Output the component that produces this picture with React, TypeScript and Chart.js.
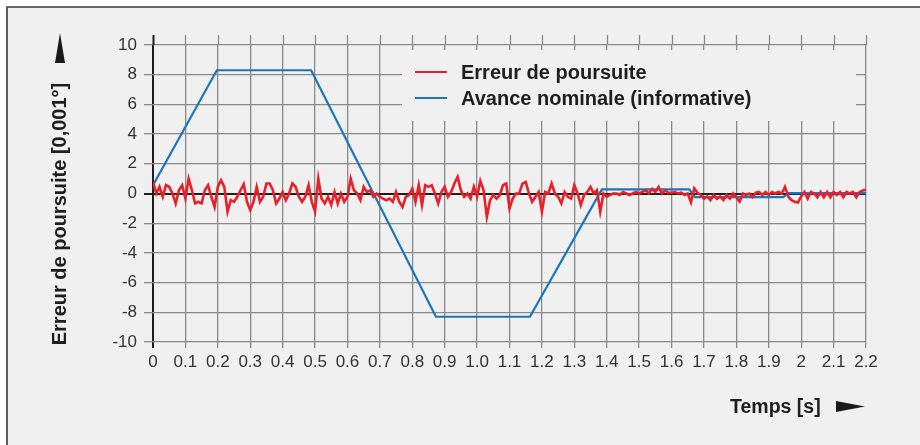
import React, { useEffect, useRef } from 'react';
import { Chart, registerables } from 'chart.js';
Chart.register(...registerables);

// Red: tracking error, sampled every 0.01 s from t = 0 to 2.2 s
const redStep = 0.01;
const redValues = [
  0.78, 0, 0.45, -0.22, 0.56, 0.45, 0, -0.67, 0.22, 0.56,
  -0.34, 1.0, 0.22, -0.67, -0.56, -0.67, 0.22, 0.56, -0.22, -0.9,
  0.45, 0.9, 0.45, -1.23, -0.45, -0.56, -0.22, 0.22, 0.63, -0.56,
  -1.12, -0.56, 0.45, -0.56, -0.22, 0.67, 0.67, 0.22, -0.67, -0.34,
  0.1, -0.45, 0, 0.67, 0.45, -0.22, -0.56, -0.22, 0.56, -0.56,
  -1.23, 1.0, -0.34, -0.67, -0.22, -0.78, 0.1, -0.67, 0, -0.56,
  -0.22, 1.0, 0.22, 0, -0.45, 0.45, 0.1, 0.22, -0.22, 0,
  -0.22, -0.34, -0.45, -0.34, -0.56, 0.1,
  -0.56, -0.9, -0.22, -0.1, 0.34, -0.56, 0.56, -0.78, 0.56, 0.45,
  0.56, 0, -0.67, 0.1, 0.45, -0.22, 0.1, 0.67, 1.12, 0.22,
  -0.22, 0, -0.34, 0.45, -0.22, 0.85, 0.22, -1.57, -0.45, -0.1,
  -0.34, -0.1, 0.56, 0.67, -1.0, -0.34, 0, 0, 0.67, 0.78,
  0, -0.56, -0.22, 0.1, -1.23, 0.1, 0, 0.67, 0, -0.22,
  -0.67, 0.1, -0.22, -0.34, 0.56, 0, -0.78, -0.1, 0.1, 0.45,
  0, 0.22, -1.23, 0, -0.22, -0.1, 0, 0, -0.1, 0.1,
  0, -0.1, 0, 0.1, 0, 0.1, 0.22, 0,
  0.3, 0.1, 0.45, 0, 0.2, 0.05, 0.05, 0.1, 0, 0.05,
  -0.1, 0, -0.6, 0.35, 0.05, -0.1, -0.35, -0.2, -0.45, -0.1,
  -0.35, -0.2, -0.45, -0.1, -0.35, 0, -0.25, -0.55, 0, -0.1,
  0, -0.25, 0.05, 0.1, -0.1, 0.1, -0.1, 0.1, 0, 0.1,
  0, 0.45, -0.2, -0.45, -0.55, -0.6, -0.2, 0.1, -0.35, 0.1,
  0, -0.25, 0.1, -0.25, 0.1, -0.25, 0.1, -0.1, 0.1, -0.25,
  0.1, 0, 0.1, -0.25, 0.1, 0.2, 0.25,
];

// Blue: nominal feed (informative)
const blueTimes = [0, 0.197, 0.488, 0.873, 1.163, 1.385, 1.655, 1.672, 1.945, 1.96, 2.2];
const blueValues = [0.55, 8.3, 8.3, -8.3, -8.3, 0.28, 0.28, -0.25, -0.25, 0.03, 0.03];

const seriesLabels = ['Erreur de poursuite', 'Avance nominale (informative)'];
const seriesColors = ['#e8202a', '#1b75bc'];

const xTickLabels = ['0', '0.1', '0.2', '0.3', '0.4', '0.5', '0.6', '0.7', '0.8', '0.9', '1.0', '1.1', '1.2', '1.3', '1.4', '1.5', '1.6', '1.7', '1.8', '1.9', '2', '2.1', '2.2'];
const yTickLabels = ['-10', '-8', '-6', '-4', '-2', '0', '2', '4', '6', '8', '10'];

const yTitle = 'Erreur de poursuite [0,001°]';
const xTitle = 'Temps [s]';

const FONT = "'Liberation Sans', Arial, Helvetica, sans-serif";
const GRID = '#8a8a8a';
const AXIS = '#1e1e1e';
const BG = '#f0f0f0';

export default function App() {
  const ref = useRef<HTMLCanvasElement>(null);

  useEffect(() => {
    const canvas = ref.current!;

    const bgPlugin = {
      id: 'bgFrame',
      beforeDraw(chart: any) {
        const { ctx, width, height } = chart;
        ctx.save();
        ctx.fillStyle = '#ffffff';
        ctx.fillRect(0, 0, width, height);
        ctx.fillStyle = BG;
        ctx.fillRect(7, 7, width - 7, height - 7);
        ctx.strokeStyle = '#3a3a3a';
        ctx.lineWidth = 1.6;
        ctx.beginPath();
        ctx.moveTo(7, height);
        ctx.lineTo(7, 7);
        ctx.lineTo(width, 7);
        ctx.stroke();
        ctx.restore();
      },
    };

    const extPlugin = {
      id: 'gridExt',
      beforeDatasetsDraw(chart: any) {
        const { ctx, chartArea } = chart;
        const xs = chart.scales.x;
        ctx.save();
        xs.ticks.forEach((t: any, i: number) => {
          const px = Math.round(xs.getPixelForValue(t.value)) + 0.5;
          ctx.strokeStyle = i === 0 ? AXIS : GRID;
          ctx.lineWidth = i === 0 ? 2 : 1.3;
          ctx.beginPath();
          ctx.moveTo(px, chartArea.top - 10);
          ctx.lineTo(px, chartArea.top);
          ctx.stroke();
        });
        ctx.restore();
      },
    };

    const legendPlugin = {
      id: 'customLegend',
      afterDraw(chart: any) {
        const { ctx, chartArea: a } = chart;
        const L = a.left + 249;
        const R = a.right - 10;
        const T = a.top + 5;
        const B = a.top + 76;
        ctx.save();
        ctx.fillStyle = BG;
        ctx.fillRect(L, T, R - L, B - T);
        const rows = [a.top + 27, a.top + 53];
        seriesLabels.forEach((lab, i) => {
          const y = rows[i];
          ctx.strokeStyle = seriesColors[i];
          ctx.lineWidth = 2;
          ctx.beginPath();
          ctx.moveTo(L + 13, y);
          ctx.lineTo(L + 45, y);
          ctx.stroke();
          ctx.fillStyle = '#1e1e1e';
          ctx.font = `bold 20px ${FONT}`;
          ctx.textBaseline = 'alphabetic';
          ctx.textAlign = 'left';
          ctx.fillText(lab, L + 59, y + 6.5);
        });
        ctx.restore();
      },
    };

    const titlesPlugin = {
      id: 'titles',
      afterDraw(chart: any) {
        const { ctx, chartArea: a } = chart;
        ctx.save();
        ctx.fillStyle = '#1e1e1e';
        ctx.font = `bold 20px ${FONT}`;
        ctx.textAlign = 'center';
        ctx.textBaseline = 'middle';
        ctx.translate(60, 214);
        ctx.rotate(-Math.PI / 2);
        ctx.fillText(yTitle, 0, 0);
        ctx.setTransform(1, 0, 0, 1, 0, 0);
        ctx.fillStyle = '#1a1a1a';
        ctx.beginPath();
        ctx.moveTo(60, 33);
        ctx.lineTo(65, 63);
        ctx.lineTo(55, 63);
        ctx.closePath();
        ctx.fill();
        ctx.fillStyle = '#1e1e1e';
        ctx.font = `bold 19.5px ${FONT}`;
        ctx.textAlign = 'left';
        ctx.textBaseline = 'alphabetic';
        ctx.fillText(xTitle, 730, 413);
        ctx.fillStyle = '#1a1a1a';
        ctx.beginPath();
        ctx.moveTo(a.right - 1, 406.5);
        ctx.lineTo(836, 401);
        ctx.lineTo(836, 412);
        ctx.closePath();
        ctx.fill();
        ctx.restore();
      },
    };

    const redData = redValues.map((v, i) => ({ x: Math.round(i * redStep * 100) / 100, y: v }));
    const blueData = blueTimes.map((t, i) => ({ x: t, y: blueValues[i] }));

    const chart = new Chart(canvas, {
      type: 'line',
      data: {
        datasets: [
          {
            label: seriesLabels[0],
            data: redData,
            borderColor: seriesColors[0],
            borderWidth: 2.6,
            pointRadius: 0,
            tension: 0,
            fill: false,
          },
          {
            label: seriesLabels[1],
            data: blueData,
            borderColor: seriesColors[1],
            borderWidth: 2.2,
            pointRadius: 0,
            tension: 0,
            fill: false,
          },
        ],
      },
      options: {
        responsive: false,
        animation: false,
        events: [],
        layout: { padding: { top: 45, right: 54, left: 0, bottom: 0 } },
        plugins: {
          legend: { display: false },
          tooltip: { enabled: false },
          title: { display: false },
        },
        scales: {
          x: {
            type: 'linear',
            min: 0,
            max: 2.2,
            border: { display: false },
            grid: {
              color: (c: any) => (c.index === 0 ? AXIS : GRID),
              lineWidth: (c: any) => (c.index === 0 ? 2 : 1.3),
              tickLength: 6,
              drawTicks: true,
            },
            ticks: {
              stepSize: 0.1,
              autoSkip: false,
              maxRotation: 0,
              padding: 4,
              color: '#333',
              font: { family: FONT, size: 17 },
              callback: (_v: any, i: number) => xTickLabels[i],
            },
            afterFit: (s: any) => {
              s.height = 103;
            },
          },
          y: {
            type: 'linear',
            min: -10,
            max: 10,
            border: { display: false },
            grid: {
              color: (c: any) => (c.tick && c.tick.value === 0 ? AXIS : GRID),
              lineWidth: (c: any) => (c.tick && c.tick.value === 0 ? 2 : 1.3),
              tickLength: 9,
            },
            ticks: {
              stepSize: 2,
              padding: 7,
              color: '#333',
              font: { family: FONT, size: 17 },
              callback: (_v: any, i: number) => yTickLabels[i],
            },
            afterFit: (s: any) => {
              s.width = 153;
            },
          },
        },
      },
      plugins: [bgPlugin, extPlugin, legendPlugin, titlesPlugin],
    } as any);

    return () => chart.destroy();
  }, []);

  return (
    <div style={{ position: 'absolute', left: 0, top: 0, width: 920, height: 445 }}>
      <canvas ref={ref} width={920} height={445} style={{ display: 'block' }} />
    </div>
  );
}
